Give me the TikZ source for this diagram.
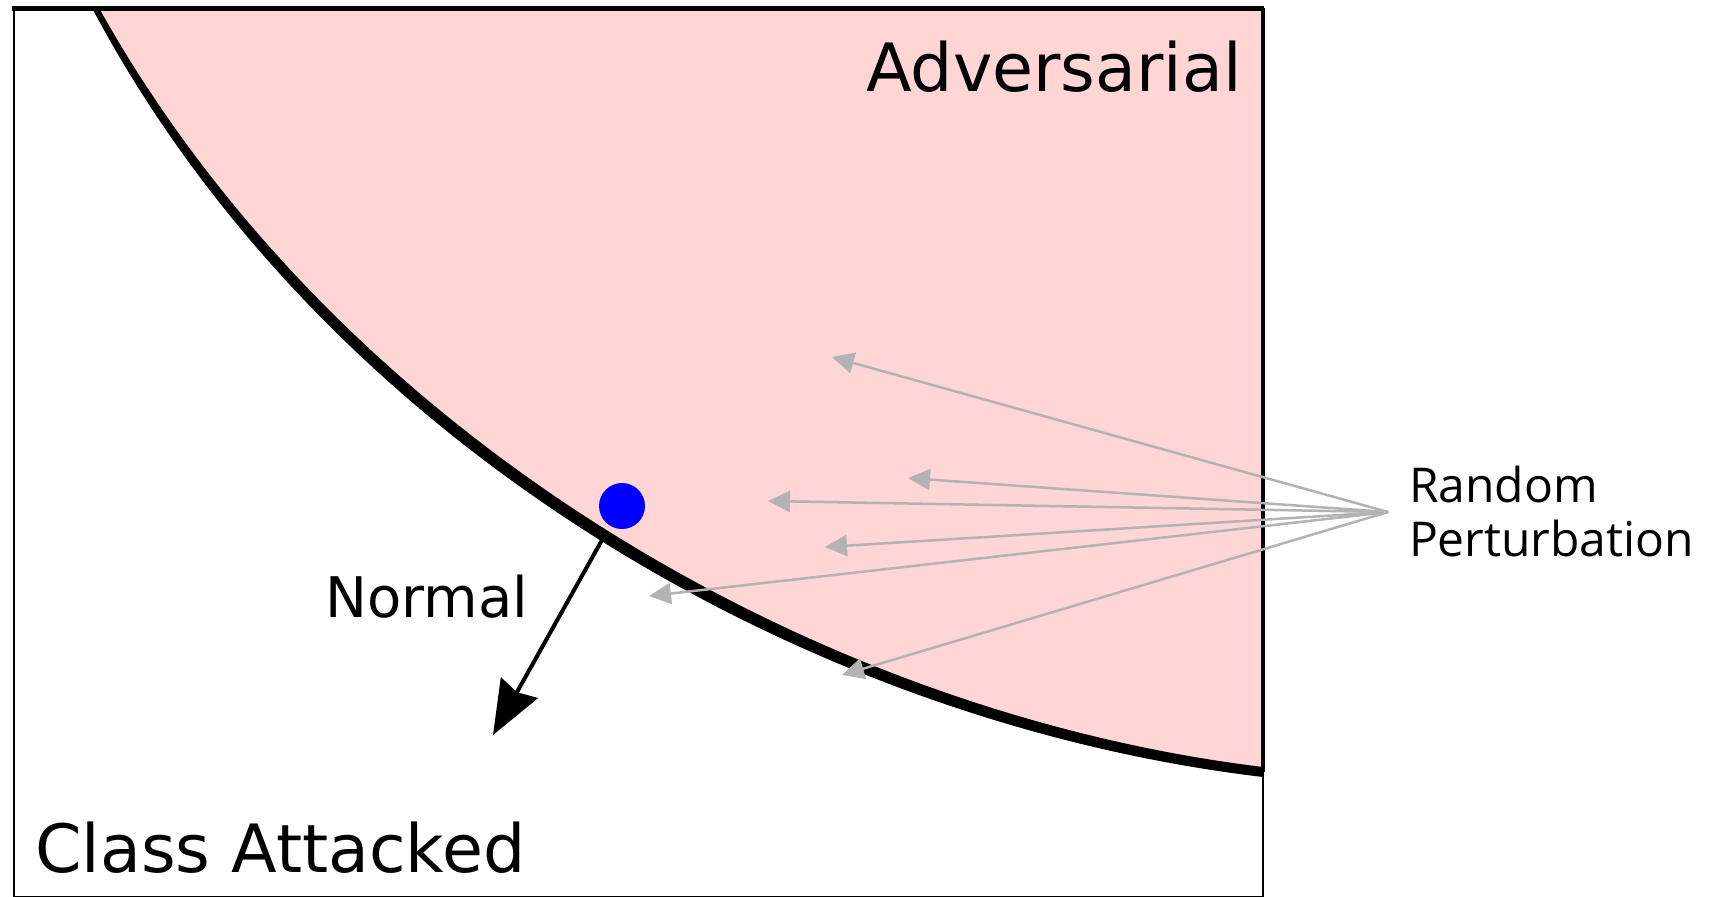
\documentclass[tikz,border=0pt]{standalone}
\usepackage{fontspec}
\usetikzlibrary{arrows.meta}
\newfontfamily\dvsans{DejaVu Sans}
\newfontfamily\osans{Open Sans}
\definecolor{advpink}{RGB}{255,213,213}
\definecolor{pertgray}{RGB}{179,179,179}
\begin{document}
\begin{tikzpicture}[x=0.5pt,y=-0.5pt,
  pert/.style={draw=pertgray,line width=1.25pt,-{Triangle[length=11pt,width=10.5pt]}},
  normarrow/.style={draw=black,line width=2pt,-{Stealth[length=27pt,width=21pt,inset=2.5pt]}},
  bigtext/.style={font=\dvsans\fontsize{33.3}{40}\selectfont,inner sep=0pt,anchor=base west},
  midtext/.style={font=\dvsans\fontsize{28}{34}\selectfont,inner sep=0pt,anchor=base west},
  smalltext/.style={font=\osans\fontsize{24}{27}\selectfont,inner sep=0pt,anchor=base west}]
\useasboundingbox (0,0) rectangle (1713,896);
\fill[white] (0,0) rectangle (1713,896);
% adversarial region
\fill[advpink] (95,8) .. controls (332,442) and (813,718) .. (1263,772) -- (1263,8) -- cycle;
% frame
\draw[line width=1.25pt] (14,897) rectangle (1263,8);
\draw[line width=2.2pt] (12,8.5) -- (1264,8.5);
\draw[line width=2pt] (1263,8) -- (1263,772);
% boundary
\fill[black] (92,8) .. controls (326,448) and (811,723.5) .. (1263,777)
  -- (1263,767) .. controls (815,712.5) and (338,436) .. (99,8) -- cycle;
% labels
\node[bigtext] (adv) at (866,91) {Adversarial};
\node[bigtext] (cls) at (35,872) {Class Attacked};
\node[midtext] (nrm) at (325,617) {Normal};
\node[smalltext] (rp1) at (1408.6,502) {Random};
\node[smalltext] (rp2) at (1408.6,556) {Perturbation};
% point
\node[circle,fill=blue,minimum size=23pt,inner sep=0pt] (pt) at (622,506) {};
% normal arrow
\coordinate (nstart) at (602,540);
\coordinate (nend) at (493,735);
\draw[normarrow] (nstart) -- (nend);
% perturbations
\coordinate (src) at (1388,512);
\coordinate (t1) at (832,357);
\coordinate (t2) at (908,478);
\coordinate (t3) at (768,501);
\coordinate (t4) at (825,547);
\coordinate (t5) at (649,596);
\coordinate (t6) at (842,675);
\foreach \t in {t1,t2,t3,t4,t5,t6} \draw[pert] (src) -- (\t);
\end{tikzpicture}
\end{document}
